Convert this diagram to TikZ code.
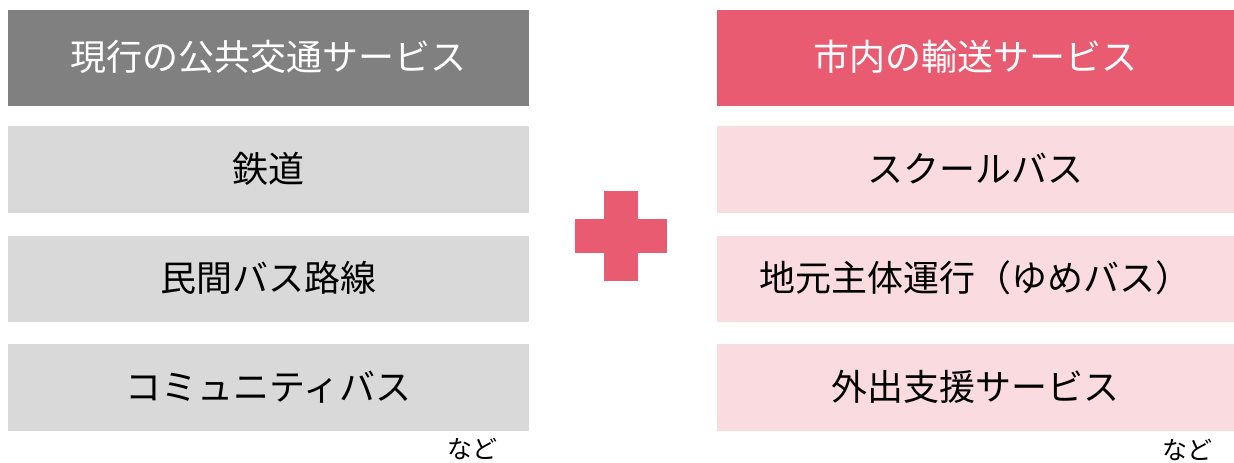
\documentclass[tikz,border=0pt]{standalone}
\usepackage{fontspec}
\setmainfont{Noto Sans CJK JP}
\usepackage{tikz}
\definecolor{headgray}{RGB}{128,128,128}
\definecolor{boxgray}{RGB}{217,217,217}
\definecolor{headred}{RGB}{232,91,112}
\definecolor{boxpink}{RGB}{250,219,224}
\tikzstyle{head} = [minimum height=72pt, text=white, font=\fontsize{27}{27}\selectfont, text height=21.6pt, text depth=2.2pt, inner sep=0]
\tikzstyle{item} = [minimum height=64.9pt, font=\fontsize{27}{27}\selectfont, text height=21.6pt, text depth=2.2pt, inner sep=0]
\tikzstyle{etc} = [font=\fontsize{18.75}{18.75}\selectfont, anchor=east, inner sep=0]

\begin{document}
\begin{tikzpicture}[x=0.75pt, y=-0.75pt]
  \useasboundingbox (0,0) rectangle (1234,463);
  % left column
  \node (lhead) at (268.75,58) [head, fill=headgray, minimum width=390.4pt] {現行の公共交通サービス};
  \node (la) at (268.75,169.25) [item, fill=boxgray, minimum width=390.4pt] {鉄道};
  \node (lb) at (268.75,279) [item, fill=boxgray, minimum width=390.4pt] {民間バス路線};
  \node (lc) at (268.75,387.75) [item, fill=boxgray, minimum width=390.4pt] {コミュニティバス};
  \node (letc) at (498,449) [etc] {など};
  % right column
  \node (rhead) at (975.75,58) [head, fill=headred, minimum width=387.4pt] {市内の輸送サービス};
  \node (ra) at (975.75,169.25) [item, fill=boxpink, minimum width=387.4pt] {スクールバス};
  \node (rb) at (975.75,279) [item, fill=boxpink, minimum width=387.4pt] {地元主体運行（ゆめバス）};
  \node (rc) at (975.75,387.75) [item, fill=boxpink, minimum width=387.4pt] {外出支援サービス};
  \node (retc) at (1213,450) [etc] {など};
  % plus
  \fill [headred] (604,190.7) rectangle (638,281);
  \fill [headred] (575,219.3) rectangle (666.7,252.7);
\end{tikzpicture}
\end{document}
